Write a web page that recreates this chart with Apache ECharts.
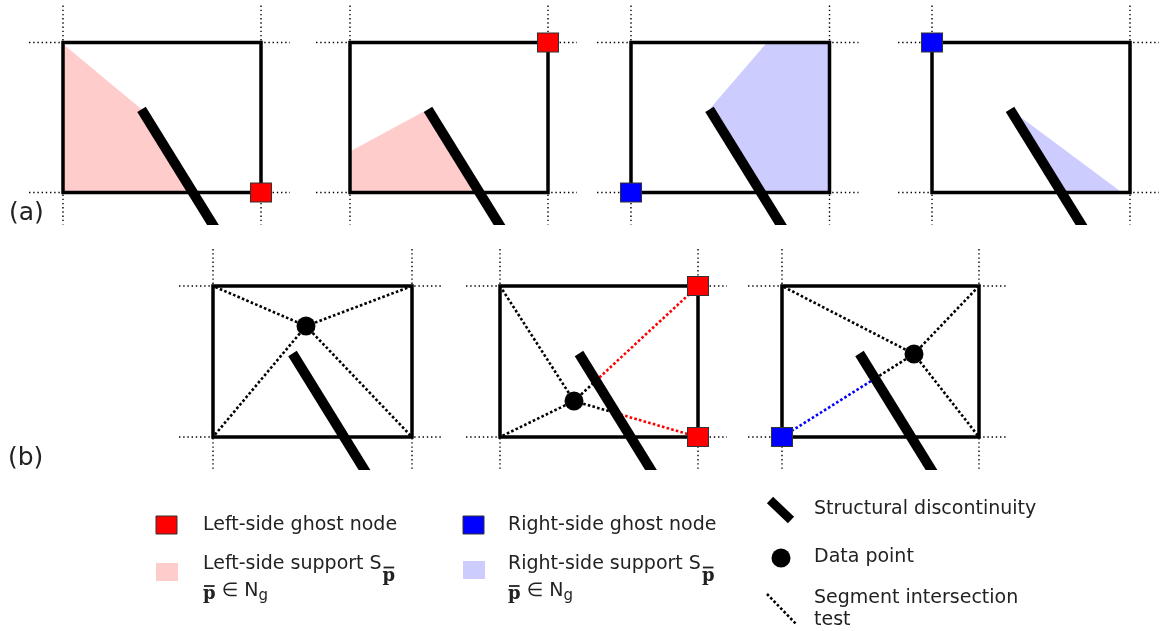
<!DOCTYPE html>
<html>
<head>
<meta charset="utf-8">
<title>Ghost nodes and supports</title>
<script src="https://cdn.jsdelivr.net/npm/echarts@6/dist/echarts.min.js"></script>
<style>
  html, body { margin: 0; padding: 0; background: #fff; }
  #main { width: 1161px; height: 631px; }
</style>
</head>
<body>
<div id="main"></div>
<script>
// panel frames [left, top, right, bottom]
var framesA = [[63, 42.5, 261, 192.5], [350, 42.5, 548, 192.5], [631, 42.5, 829.5, 192.5], [932, 42.5, 1130, 192.5]];
var framesB = [[213, 286, 412, 437], [500, 286, 698, 437], [782, 286, 979, 437]];
// discontinuities: top centre x,y and centre x,y where they are cut off
var cracksA = [[141.5, 109.3, 213, 225], [428, 109.3, 499.5, 225], [709.5, 109.3, 781, 225], [1010, 109.3, 1081.5, 225]];
var cracksB = [[292.5, 353.5, 364.5, 470], [579, 353.5, 651, 470], [859.5, 353.5, 931.5, 470]];
var dataPoints = [[306, 326], [574, 401], [914, 354]];
var leftGhosts = [[261, 192.5], [548, 42.5], [698, 286], [698, 437]];
var rightGhosts = [[631, 192.5], [932, 42.5], [782, 437]];
var leftSupports = [
  [[63, 44], [141.5, 109.3], [192.5, 192.5], [63, 192.5]],
  [[350, 151.5], [428, 109.3], [479, 192.5], [350, 192.5]]
];
var rightSupports = [
  [[767, 42.5], [829.5, 42.5], [829.5, 192.5], [761, 192.5], [709.5, 109.3]],
  [[1010, 109.3], [1122, 192.5], [1061, 192.5]]
];
var panelLabels = ['(a)', '(b)'];

var ink = '#222';
var sans = '19px "DejaVu Sans"';
var segColors = ['#000', '#ff0000', '#0000ff'];

function ghostSide(c) {
  for (var i = 0; i < leftGhosts.length; i++) if (leftGhosts[i][0] === c[0] && leftGhosts[i][1] === c[1]) return 1;
  for (var j = 0; j < rightGhosts.length; j++) if (rightGhosts[j][0] === c[0] && rightGhosts[j][1] === c[1]) return 2;
  return 0;
}
// where p->q meets the discontinuity's centre line
function crossing(p, q, c) {
  var bx = c[2] - c[0], by = c[3] - c[1];
  var dx = q[0] - p[0], dy = q[1] - p[1];
  var t = ((c[0] - p[0]) * by - (c[1] - p[1]) * bx) / (dx * by - dy * bx);
  return [p[0] + t * dx, p[1] + t * dy];
}

var testSegs = [];
framesB.forEach(function (f, i) {
  var p = dataPoints[i];
  [[f[0], f[1]], [f[2], f[1]], [f[2], f[3]], [f[0], f[3]]].forEach(function (c) {
    var side = ghostSide(c);
    if (!side) {
      testSegs.push([p[0], p[1], c[0], c[1], 0]);
    } else {
      var m = crossing(p, c, cracksB[i]);
      testSegs.push([p[0], p[1], m[0], m[1], 0]);
      testSegs.push([m[0], m[1], c[0], c[1], side]);
    }
  });
});

function seg(api, x1, y1, x2, y2, style) {
  var a = api.coord([x1, y1]), b = api.coord([x2, y2]);
  return { type: 'line', shape: { x1: a[0], y1: a[1], x2: b[0], y2: b[1] }, style: style };
}
function polygon(api, pts, fill) {
  return { type: 'polygon', shape: { points: pts.map(function (p) { return api.coord(p); }) }, style: { fill: fill } };
}
function crackShape(api, c, w) {
  var p = api.coord([c[0], c[1]]), q = api.coord([c[2], c[3]]);
  var dx = q[0] - p[0], dy = q[1] - p[1], len = Math.sqrt(dx * dx + dy * dy);
  var nx = -dy / len * w / 2, ny = dx / len * w / 2;
  var sx = nx - ny * dx / dy;
  return {
    type: 'polygon',
    shape: { points: [[p[0] + nx, p[1] + ny], [p[0] - nx, p[1] - ny], [q[0] - sx, q[1]], [q[0] + sx, q[1]]] },
    style: { fill: '#000' }
  };
}

var allFrames = framesA.concat(framesB);
var allCracks = cracksA.concat(cracksB);

var measureCtx = document.createElement('canvas').getContext('2d');
function textWidth(str, font) { measureCtx.font = font; return measureCtx.measureText(str).width; }

function txt(x, y, s, font) {
  return { type: 'text', x: x, y: y, silent: true,
    style: { text: s, font: font, fill: ink, textVerticalAlign: 'middle', verticalAlign: 'middle' } };
}
// a run of text pieces; pieces may be shifted (subscripts) or get a bar
function run(x, y, parts) {
  var els = [];
  parts.forEach(function (pt) {
    var w = textWidth(pt.t, pt.font);
    var yy = y + (pt.dy || 0);
    els.push(txt(x, yy, pt.t, pt.font));
    if (pt.bar != null) {
      els.push({ type: 'line', silent: true, shape: { x1: x + 1, y1: yy + pt.bar, x2: x + w - 1, y2: yy + pt.bar },
        style: { stroke: ink, lineWidth: 1.8 } });
    }
    x += w + (pt.gap || 0);
  });
  return els;
}
var pBold = 'bold 18px "DejaVu Serif"';
var subFont = '15px "DejaVu Sans"';

function supportLegend(x, y, word) {
  return run(x, y, [{ t: word + '-side support S', font: sans, gap: 1 }, { t: 'p', font: pBold, dy: 12, bar: -8.5 }])
    .concat(run(x, y + 27, [{ t: 'p', font: pBold, dy: 3, bar: -8 }, { t: ' \u2208 N', font: sans },
      { t: 'g', font: subFont, dy: 5 }]));
}

var graphics = [
  txt(9, 213, panelLabels[0], '25px "DejaVu Sans"'),
  txt(8, 458, panelLabels[1], '25px "DejaVu Sans"'),
  { type: 'rect', shape: { x: 156, y: 516, width: 21, height: 18 }, style: { fill: '#ff0000', stroke: '#333', lineWidth: 1 } },
  txt(203, 525, 'Left-side ghost node', sans),
  { type: 'rect', shape: { x: 156, y: 563, width: 22, height: 18 }, style: { fill: '#ffcccc' } },
  { type: 'rect', shape: { x: 463, y: 516, width: 21, height: 18 }, style: { fill: '#0000ff', stroke: '#333', lineWidth: 1 } },
  txt(508, 525, 'Right-side ghost node', sans),
  { type: 'rect', shape: { x: 463, y: 561, width: 22, height: 18 }, style: { fill: '#ccccff' } },
  { type: 'line', shape: { x1: 770, y1: 500, x2: 791, y2: 520 }, style: { stroke: '#000', lineWidth: 9 } },
  txt(814, 509, 'Structural discontinuity', sans),
  { type: 'circle', shape: { cx: 781, cy: 558, r: 9.5 }, style: { fill: '#000' } },
  txt(814, 557, 'Data point', sans),
  { type: 'line', shape: { x1: 767, y1: 594, x2: 797, y2: 625 }, style: { stroke: '#000', lineWidth: 2.6, lineDash: [2.6, 2.2] } },
  txt(814, 598, 'Segment intersection', sans),
  txt(814, 620, 'test', sans)
].concat(supportLegend(203, 564, 'Left'), supportLegend(508, 564, 'Right'));

var chart = echarts.init(document.getElementById('main'));
chart.setOption({
  animation: false,
  backgroundColor: '#fff',
  grid: { left: 0, right: 0, top: 0, bottom: 0 },
  xAxis: { type: 'value', min: 0, max: 1161, show: false },
  yAxis: { type: 'value', min: 0, max: 631, inverse: true, show: false },
  graphic: graphics,
  series: [
    {
      type: 'custom', silent: true, clip: false,
      data: allFrames,
      renderItem: function (params, api) {
        var f = allFrames[params.dataIndex];
        var st = { stroke: '#000', lineWidth: 1.4, lineDash: [1.4, 2.8] };
        return { type: 'group', children: [
          seg(api, f[0], f[1] - 37, f[0], f[3] + 32, st),
          seg(api, f[2], f[1] - 37, f[2], f[3] + 32, st),
          seg(api, f[0] - 34, f[1], f[2] + 29, f[1], st),
          seg(api, f[0] - 34, f[3], f[2] + 29, f[3], st)
        ] };
      }
    },
    {
      type: 'custom', silent: true, clip: false,
      data: leftSupports.map(function (p, i) { return [i]; }),
      renderItem: function (params, api) { return polygon(api, leftSupports[params.dataIndex], '#ffcccc'); }
    },
    {
      type: 'custom', silent: true, clip: false,
      data: rightSupports.map(function (p, i) { return [i]; }),
      renderItem: function (params, api) { return polygon(api, rightSupports[params.dataIndex], '#ccccff'); }
    },
    {
      type: 'custom', silent: true, clip: false,
      data: allFrames,
      renderItem: function (params, api) {
        var f = allFrames[params.dataIndex];
        var a = api.coord([f[0], f[1]]), b = api.coord([f[2], f[3]]);
        return { type: 'rect', shape: { x: a[0], y: a[1], width: b[0] - a[0], height: b[1] - a[1] },
          style: { fill: 'none', stroke: '#000', lineWidth: 3.5 } };
      }
    },
    {
      type: 'custom', silent: true, clip: false,
      data: testSegs,
      renderItem: function (params, api) {
        var s = testSegs[params.dataIndex];
        return seg(api, s[0], s[1], s[2], s[3], { stroke: segColors[s[4]], lineWidth: 2.6, lineDash: [2.6, 2.2] });
      }
    },
    {
      type: 'custom', silent: true, clip: false,
      data: allCracks,
      renderItem: function (params, api) { return crackShape(api, allCracks[params.dataIndex], 10); }
    },
    {
      type: 'scatter', silent: true, data: dataPoints,
      symbol: 'circle', symbolSize: 19, itemStyle: { color: '#000', opacity: 1 }
    },
    {
      type: 'scatter', silent: true, data: leftGhosts,
      symbol: 'rect', symbolSize: [21, 19], itemStyle: { color: '#ff0000', borderColor: '#333', borderWidth: 1, opacity: 1 }
    },
    {
      type: 'scatter', silent: true, data: rightGhosts,
      symbol: 'rect', symbolSize: [21, 19], itemStyle: { color: '#0000ff', borderColor: '#333', borderWidth: 1, opacity: 1 }
    }
  ]
});
</script>
</body>
</html>
